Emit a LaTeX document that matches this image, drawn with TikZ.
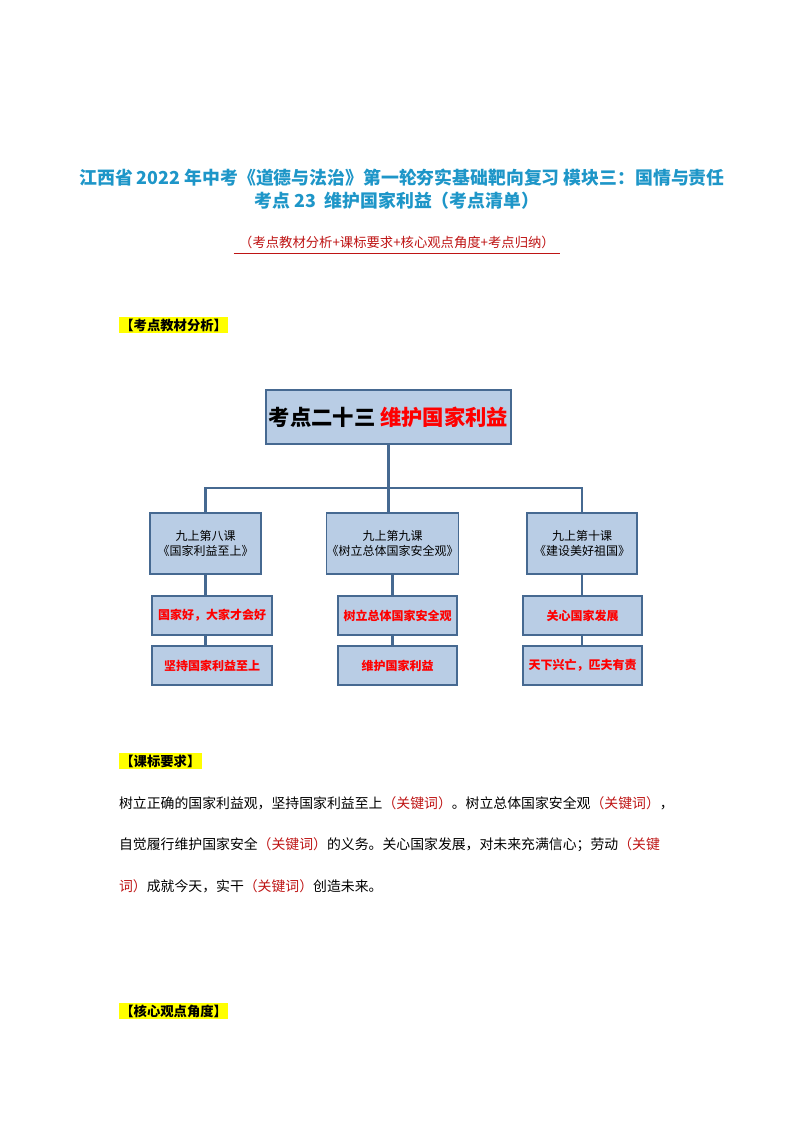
\documentclass[tikz,border=0pt]{standalone}
\usepackage{fontspec}
\setmainfont{Noto Sans CJK SC}
\newfontfamily\cjk{Noto Sans CJK SC}
\definecolor{boxfill}{RGB}{185,205,229}
\definecolor{boxline}{RGB}{70,105,145}
\definecolor{titleblue}{RGB}{30,150,200}
\definecolor{keyred}{RGB}{190,20,20}
\definecolor{hiyellow}{RGB}{255,255,0}

\begin{document}
\begin{tikzpicture}[x=0.75pt,y=-0.75pt,line width=1.6pt,draw=boxline]
    \tikzstyle{topic}=[draw=boxline,fill=boxfill,line width=1.3pt,inner sep=0pt,font=\cjk]
    \tikzstyle{lesson}=[topic,font=\cjk\fontsize{9}{11}\selectfont,align=center]
    \tikzstyle{point}=[topic,font=\cjk\bfseries\fontsize{9}{11}\selectfont,text=red]
    \tikzstyle{head}=[fill=hiyellow,inner sep=1pt,anchor=west,font=\cjk\bfseries\fontsize{10}{12}\selectfont]
    \tikzstyle{para}=[anchor=west,inner sep=0pt,font=\cjk\fontsize{10.4}{12}\selectfont]

    \useasboundingbox (0,0) rectangle (794,1123);

    % Titles
    \node[text=titleblue,font=\cjk\bfseries\fontsize{13.4}{15}\selectfont] (T1) at (402,178) {江西省 2022 年中考《道德与法治》第一轮夯实基础靶向复习\ 模块三：国情与责任};
    \node[text=titleblue,font=\cjk\bfseries\fontsize{13.4}{15}\selectfont] (T2) at (397,201) {考点 23\ \ 维护国家利益（考点清单）};
    \node[text=keyred,font=\cjk\fontsize{10}{12}\selectfont] (T3) at (397,242) {（考点教材分析+课标要求+核心观点角度+考点归纳）};
    \draw[keyred,line width=0.6pt] (T3.south west) -- (T3.south east);

    % Section heads
    \node[head] (H1) at (118,325) {【考点教材分析】};
    \node[head] (H2) at (118,761) {【课标要求】};
    \node[head] (H3) at (118,1011) {【核心观点角度】};

    % Tree: top, lessons, points
    \node[topic,minimum width=184pt,minimum height=40pt,font=\cjk\bfseries\fontsize{16}{18}\selectfont] (K) at (388.5,417) {考点二十三 \textcolor{red}{维护国家利益}};

    \node[lesson,minimum width=83pt,minimum height=46pt] (L-1) at (205.5,543.5) {九上第八课\\《国家利益至上》};
    \node[lesson,minimum width=97pt,minimum height=46pt] (L-2) at (392.5,543.5) {九上第九课\\《树立总体国家安全观》};
    \node[lesson,minimum width=82pt,minimum height=46pt] (L-3) at (582,543.5) {九上第十课\\《建设美好祖国》};

    \node[point,minimum width=90pt,minimum height=29pt] (P-1) at (212,615.5) {国家好，大家才会好};
    \node[point,minimum width=89pt,minimum height=29pt] (P-2) at (397.5,615.5) {树立总体国家安全观};
    \node[point,minimum width=89pt,minimum height=29pt] (P-3) at (582.5,615.5) {关心国家发展};

    \node[point,minimum width=90pt,minimum height=29pt] (Q-1) at (212,665.5) {坚持国家利益至上};
    \node[point,minimum width=89pt,minimum height=29pt] (Q-2) at (397.5,665.5) {维护国家利益};
    \node[point,minimum width=89pt,minimum height=29pt] (Q-3) at (582.5,665.5) {天下兴亡，匹夫有责};

    % Connectors
    \coordinate (bar) at (388.5,488);
    \draw (K.south) -- (bar);
    \draw (L-1.north) |- (bar) -| (L-3.north);
    \draw (bar) -- (bar |- L-2.north);
    \foreach \i in {1,2,3} {
        \draw (L-\i.south) -- (L-\i.south |- P-\i.north);
        \draw (P-\i.south -| L-\i.south) -- (L-\i.south |- Q-\i.north);
    }

    % Paragraph
    \node[para] (R1) at (118,803) {树立正确的国家利益观，坚持国家利益至上\textcolor{keyred}{（关键词）}。树立总体国家安全观\textcolor{keyred}{（关键词）}，};
    \node[para] (R2) at (118,845) {自觉履行维护国家安全\textcolor{keyred}{（关键词）}的义务。关心国家发展，对未来充满信心；劳动\textcolor{keyred}{（关键}};
    \node[para] (R3) at (118,886) {\textcolor{keyred}{词）}成就今天，实干\textcolor{keyred}{（关键词）}创造未来。};
\end{tikzpicture}
\end{document}
